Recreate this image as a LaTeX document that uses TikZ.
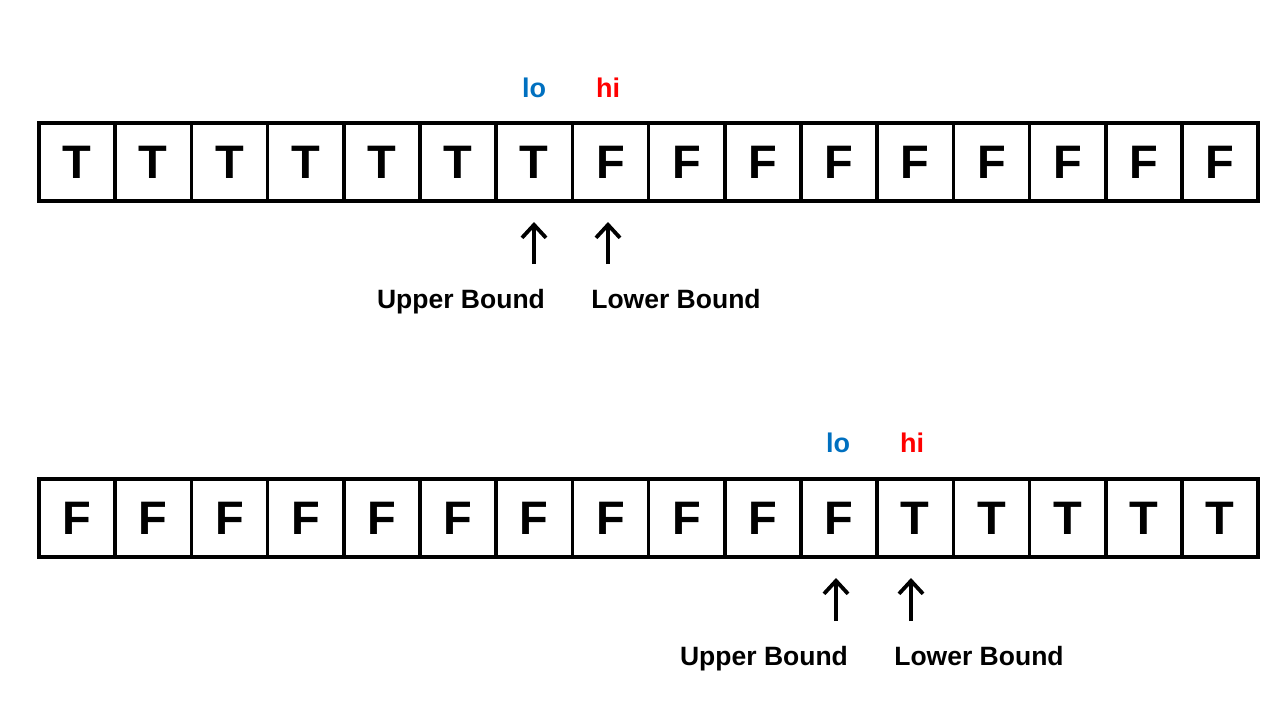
\documentclass[tikz,border=0pt]{standalone}
\usepackage{fontspec}
\setmainfont{Liberation Sans}
\usetikzlibrary{arrows.meta}
\definecolor{loblue}{RGB}{0,112,192}
\definecolor{hired}{RGB}{255,0,0}
\tikzset{
  cell/.style={draw, line width=3.5pt, minimum width=76.2pt, minimum height=78pt, inner sep=0pt, font=\fontsize{47}{50}\selectfont\bfseries},
  ptr/.style={font=\fontsize{27}{30}\selectfont\bfseries, inner sep=0pt, anchor=base},
  bnd/.style={font=\fontsize{26.5}{30}\selectfont\bfseries, inner sep=0pt, anchor=base},
  arr/.style={line width=3.8pt, -{Straight Barb[length=13pt,width=24pt]}}
}
\begin{document}
\begin{tikzpicture}[x=1pt,y=-1pt]
\useasboundingbox (0,0) rectangle (1280,720);
% top row
\foreach \v [count=\i from 0] in {T,T,T,T,T,T,T,F,F,F,F,F,F,F,F,F}{
  \node[cell] (a\i) at ({39+76.2*(\i+0.5)},162) {\v};
}
% bottom row
\foreach \v [count=\i from 0] in {F,F,F,F,F,F,F,F,F,F,F,T,T,T,T,T}{
  \node[cell] (b\i) at ({39+76.2*(\i+0.5)},518) {\v};
}
% pointer labels
\node[ptr, text=loblue] (lo1) at (534,97) {lo};
\node[ptr, text=hired] (hi1) at (608,97) {hi};
\node[ptr, text=loblue] (lo2) at (838,452) {lo};
\node[ptr, text=hired] (hi2) at (912,452) {hi};
% arrows top
\coordinate (p1s) at (534,264); \coordinate (p1e) at (534,222);
\coordinate (p2s) at (608,264); \coordinate (p2e) at (608,222);
\draw[arr] (p1s) -- (p1e);
\draw[arr] (p2s) -- (p2e);
% arrows bottom
\coordinate (q1s) at (836,621); \coordinate (q1e) at (836,578);
\coordinate (q2s) at (911,621); \coordinate (q2e) at (911,578);
\draw[arr] (q1s) -- (q1e);
\draw[arr] (q2s) -- (q2e);
% bound labels
\node[bnd] (ub1) at (461,308) {Upper Bound};
\node[bnd] (lb1) at (676,308) {Lower Bound};
\node[bnd] (ub2) at (764,665) {Upper Bound};
\node[bnd] (lb2) at (979,665) {Lower Bound};
\end{tikzpicture}
\end{document}
